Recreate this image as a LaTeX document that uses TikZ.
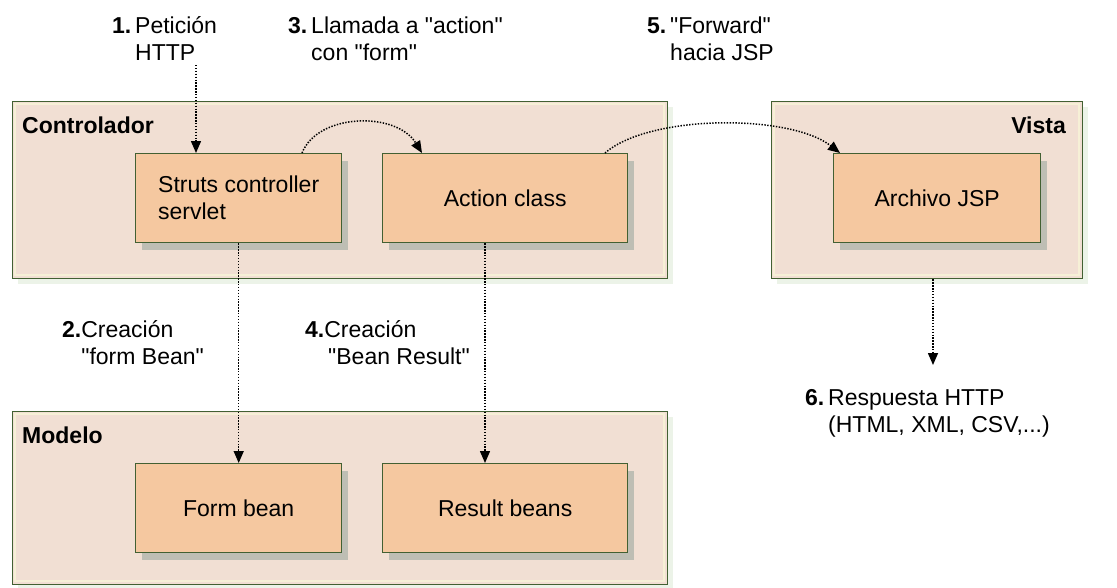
\documentclass[tikz,border=0pt]{standalone}
\usepackage{fontspec}
\setmainfont{Liberation Sans}[Ligatures=TeXOff]
\usetikzlibrary{arrows.meta}

\definecolor{groupfill}{RGB}{241,223,211}
\definecolor{groupedge}{RGB}{66,96,50}
\definecolor{grouprim}{RGB}{246,240,214}
\definecolor{grouphalo}{RGB}{236,243,232}
\definecolor{compfill}{RGB}{245,200,160}
\definecolor{compshadow}{RGB}{190,190,180}

% a numbered step: bold number, then a left-aligned block of two lines
\newcommand\stepnote[3]{\textbf{#1}\,\begin{tabular}[t]{@{}l@{}}#2\\#3\end{tabular}}

\tikzset{
  group/.style={draw=groupedge, line width=1.4pt, fill=groupfill, inner sep=0pt,
    anchor=north west},
  comp/.style={draw=groupedge, line width=1.4pt, fill=compfill, inner sep=0pt,
    anchor=north west, align=left, font=\fontsize{23}{27}\selectfont},
  grouptitle/.style={font=\fontsize{23}{27}\selectfont\bfseries, inner sep=0pt},
  note/.style={font=\fontsize{23}{27}\selectfont, inner sep=0pt, anchor=base west},
  flow/.style={line width=1.5pt, dash pattern=on 1.4pt off 1.5pt,
    -{Triangle[length=12pt,width=10pt]}},
}

% rectangle in picture pixels: #1 name, #2 x, #3 y, #4 width, #5 height
\newcommand\groupbox[5]{%
  \fill[grouphalo] (#2+6,#3+6) rectangle ++(#4,#5);
  \node[group, minimum width=#4pt, minimum height=#5pt] (#1) at (#2,#3) {};
  \draw[grouprim, line width=2.5pt] (#2+3,#3+3) rectangle ++(#4-6,#5-6);
}
\newcommand\compbox[6]{%
  \fill[compshadow] (#2+7,#3+8) rectangle ++(#4,#5);
  \node[comp, minimum width=#4pt, minimum height=#5pt] (#1) at (#2,#3) {};
  \node[comp, draw=none, fill=none, anchor=center] at (#1.center) {#6};
}

\begin{document}
\begin{tikzpicture}[x=1pt, y=-1pt]
  \useasboundingbox (0,0) rectangle (1117,587);
  \fill[white] (0,0) rectangle (1117,587);

  % layers
  \groupbox{ctrl}{12}{101}{655}{177}
  \groupbox{vista}{771}{101}{311}{177}
  \groupbox{modelo}{12}{411}{655}{173}

  \node[grouptitle, anchor=base west] (tctrl) at (22,133) {Controlador};
  \node[grouptitle, anchor=base east] (tvista) at (1066,133) {Vista};
  \node[grouptitle, anchor=base west] (tmodelo) at (22,443) {Modelo};

  % components
  \compbox{struts}{135}{153}{206}{89}{Struts controller\\servlet}
  \compbox{action}{382}{153}{245}{89}{Action class}
  \compbox{jsp}{833}{153}{207}{89}{Archivo JSP}
  \compbox{form}{135}{463}{206}{89}{Form bean}
  \compbox{result}{382}{463}{245}{89}{Result beans}

  % step labels
  \node[note] (n1) at (112,33) {\stepnote{1.}{Petición}{HTTP}};
  \node[note] (n3) at (288,33) {\stepnote{3.}{Llamada a "action"}{con "form"}};
  \node[note] (n5) at (647,33) {\stepnote{5.}{"Forward"}{hacia JSP}};
  \node[note] (n2) at (62,337) {\textbf{2.}\begin{tabular}[t]{@{}l@{}}Creación\\"form Bean"\end{tabular}};
  \node[note] (n4) at (305,337) {\textbf{4.}\begin{tabular}[t]{@{}l@{}}Creación\\\,"Bean Result"\end{tabular}};
  \node[note] (n6) at (805,405) {\stepnote{6.}{Respuesta HTTP}{(HTML, XML, CSV,...)}};

  % connector ends
  \coordinate (req) at (196,65);
  \coordinate (call) at (302,0);
  \coordinate (callin) at (422,0);
  \coordinate (fwd) at (605,0);
  \coordinate (fwdin) at (840,0);
  \coordinate (mk) at (485,0);
  \coordinate (resp) at (933,365);

  % flow
  \draw[flow] (req) -- (req |- struts.north);
  \draw[flow] (call |- struts.north) .. controls (318,113) and (396,111) .. (callin |- action.north);
  \draw[flow] (struts.south) -- (form.north);
  \draw[flow] (mk |- action.south) -- (mk |- result.north);
  \draw[flow] (fwd |- action.north) .. controls (650,114) and (790,114) .. (fwdin |- jsp.north);
  \draw[flow] (resp |- vista.south) -- (resp);
\end{tikzpicture}
\end{document}
